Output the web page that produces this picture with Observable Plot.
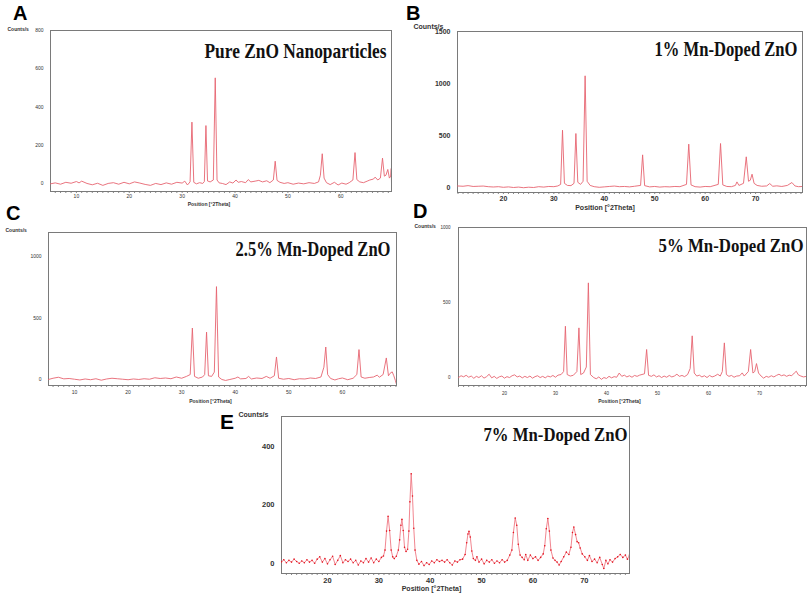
<!DOCTYPE html>
<html><head><meta charset="utf-8">
<script src="https://cdn.jsdelivr.net/npm/d3@7"></script>
<script src="https://cdn.jsdelivr.net/npm/@observablehq/plot@0.6"></script>
<style>
body{margin:0;background:#fff}
#wrap{position:relative;width:809px;height:596px;overflow:hidden;background:#fff}
.p{position:absolute}
.lab{position:absolute;font:bold 20px "Liberation Sans",Arial,sans-serif;line-height:1;color:#000}
</style>
</head><body><div id="wrap"></div>
<script>
// ---- data: [2theta, counts] ----
const aPattern = [[5.1,0],[6,5],[7,-2],[8,8],[9,3],[10,12],[10.5,5],[11,14],[12,2],[13,-5],[14,3],[15,-8],[16,2],[17,6],[18,-2],[19,8],[20,0],[21,10],[22,4],[23,-3],[24,-8],[25,2],[26,-4],[27,5],[28,-2],[29,8],[30,4],[30.5,14],[31,-6],[31.5,10],[31.85,322],[32.2,8],[32.7,0],[33.3,6],[33.9,2],[34.2,12],[34.5,304],[34.8,15],[35.3,10],[35.9,20],[36.26,553],[36.6,20],[37,5],[37.6,2],[38.3,-4],[39,10],[39.6,4],[40.2,20],[40.6,8],[41.2,12],[42,6],[42.5,22],[43,10],[43.8,14],[44.5,18],[45.2,10],[46,16],[46.6,6],[47.25,20],[47.6,118],[47.95,18],[48.5,8],[49.3,2],[50,6],[51,-2],[52,4],[53,0],[54,6],[55,2],[55.8,10],[56.15,45],[56.5,157],[56.85,30],[57.3,6],[58,-4],[58.8,8],[59.5,-6],[60.2,4],[61,-2],[61.6,6],[62.3,20],[62.7,163],[63.05,22],[63.6,10],[64.3,6],[65,14],[65.5,20],[66.2,25],[66.5,35],[67,20],[67.5,30],[67.9,134],[68.25,40],[68.55,45],[68.9,75],[69.2,30],[69.45,40],[69.55,80],[69.6,5]];
const bPattern = [[10.9,15],[12,12],[13,18],[14,10],[15,12],[16,14],[17,8],[18,5],[19,8],[20,2],[21,6],[22,0],[23,4],[24,-2],[25,3],[26,0],[27,8],[28,4],[29,10],[30,8],[30.8,15],[31.35,30],[31.72,551],[32.1,40],[32.7,20],[33.4,18],[34.0,40],[34.37,519],[34.75,50],[35.3,30],[35.8,60],[36.2,1074],[36.6,60],[37.2,20],[38,8],[39,2],[40,6],[41,10],[42,14],[43,8],[44,10],[45,6],[46,12],[47.2,20],[47.6,314],[48,18],[49,6],[50,10],[51,4],[52,8],[53,6],[54,10],[55,8],[56.3,30],[56.75,417],[57.2,25],[58,8],[59,4],[60,10],[61,8],[62.6,30],[63.05,423],[63.5,25],[64.3,10],[65.2,8],[66,20],[66.3,54],[66.7,20],[67.6,40],[68.15,295],[68.6,60],[68.95,70],[69.3,128],[69.7,40],[70.3,20],[71.2,12],[72.2,15],[72.8,38],[73.4,12],[74.2,16],[75.2,10],[76.3,20],[77.2,48],[77.8,15],[78.5,8],[79.3,10]];
const cPattern = [[5.15,0],[6,10],[7,18],[8,5],[9,8],[10,2],[11,-4],[12,4],[13,-2],[14,6],[15,-6],[16,4],[17,10],[18,6],[19,2],[20,-2],[21,4],[22,0],[23,6],[24,2],[25,14],[26,8],[27,12],[28,6],[29,20],[30,10],[30.9,25],[31.6,40],[32.0,418],[32.4,25],[33.1,10],[33.9,20],[34.3,40],[34.65,385],[35.0,30],[35.6,25],[36.1,60],[36.5,755],[36.9,20],[37.5,0],[38.2,-8],[39,0],[40,10],[40.5,20],[41,5],[42,8],[42.5,25],[43,4],[44,12],[45,8],[45.8,25],[46.5,10],[47.3,30],[47.7,183],[48.1,10],[49,2],[50,8],[51,-2],[52,6],[53,4],[54,12],[55,8],[56,20],[56.55,100],[56.9,264],[57.25,40],[57.8,8],[58.6,-4],[59.3,6],[60,12],[61,-2],[62,10],[62.7,40],[63.1,243],[63.5,20],[64.2,10],[65,16],[65.8,20],[66.5,35],[66.9,18],[67.6,40],[68.2,175],[68.6,30],[68.9,50],[69.3,62],[69.6,30],[69.9,-10],[70.1,-40]];
const dPattern = [[11,0],[11.5,12],[12,5],[12.5,15],[13,2],[13.5,10],[14,-5],[14.5,8],[15,0],[15.5,12],[16,-4],[16.5,6],[17,22],[17.5,-2],[18,8],[18.5,-6],[19,5],[19.5,10],[20,-4],[20.5,6],[21,0],[21.5,12],[22,18],[22.5,4],[23,10],[23.5,-2],[24,8],[24.5,0],[25,10],[25.5,-4],[26,6],[26.5,12],[27,0],[27.5,8],[28,-2],[28.5,10],[29,4],[29.5,14],[30,2],[30.5,16],[31.1,20],[31.6,40],[31.95,342],[32.3,20],[32.9,10],[33.5,15],[34.2,40],[34.6,331],[34.95,20],[35.5,30],[36.05,70],[36.45,631],[36.85,20],[37.5,0],[38,-8],[38.5,4],[39,-12],[39.5,0],[40,-6],[40.5,8],[41,-2],[41.5,6],[42,2],[42.5,30],[43,8],[43.5,16],[44,4],[44.5,12],[45,2],[45.5,14],[46,8],[46.5,16],[47.45,25],[47.87,187],[48.25,15],[48.8,8],[49.3,18],[49.8,4],[50.3,12],[50.8,0],[51.3,10],[51.8,2],[52.3,14],[52.8,4],[53.3,10],[53.8,22],[54.3,8],[54.8,14],[55.3,6],[55.9,20],[56.4,60],[56.8,278],[57.2,30],[57.7,10],[58.2,16],[58.7,4],[59.2,12],[59.7,0],[60.2,14],[60.7,4],[61.2,10],[61.8,22],[62.3,10],[62.7,40],[63.1,231],[63.5,20],[64,8],[64.5,14],[65,2],[65.5,10],[66.1,12],[66.6,31],[67,10],[67.8,40],[68.25,187],[68.7,30],[69.05,40],[69.4,93],[69.8,30],[70.3,10],[70.8,-4],[71.3,8],[71.8,2],[72.3,12],[72.8,4],[73.3,14],[73.8,22],[74.3,12],[74.8,18],[75.3,8],[75.8,16],[76.3,12],[76.8,30],[77.2,42],[77.6,18],[78.1,10],[78.6,4],[79.2,8]];
const ePattern = [[11.05,5],[11.5,12],[12,2],[12.5,10],[13,4],[13.5,14],[14,6],[14.5,0],[15,8],[15.5,2],[16,12],[16.5,4],[17,10],[17.5,0],[18,14],[18.5,22],[19,4],[19.5,16],[20,-2],[20.5,12],[21,24],[21.5,-4],[22,10],[22.5,26],[23,2],[23.5,12],[24,6],[24.5,14],[25,2],[25.5,10],[26,-6],[26.5,8],[27,2],[27.5,16],[28,4],[28.5,18],[29,2],[29.5,14],[30,6],[30.5,20],[30.9,25],[31.2,45],[31.5,110],[31.8,161],[32.1,112],[32.4,45],[32.7,22],[33,16],[33.4,24],[33.8,45],[34.05,80],[34.3,130],[34.5,150],[34.75,112],[35.0,55],[35.3,40],[35.6,48],[35.85,110],[36.05,210],[36.3,306],[36.55,230],[36.8,120],[37.05,45],[37.4,10],[37.8,-3],[38.3,6],[38.8,-8],[39.3,2],[39.8,-4],[40.3,8],[40.8,2],[41.3,12],[41.8,6],[42.3,10],[42.8,4],[43.3,12],[43.8,2],[44.3,-6],[44.8,8],[45.3,4],[45.8,12],[46.3,14],[46.8,30],[47.1,70],[47.35,100],[47.55,109],[47.8,90],[48.1,42],[48.4,16],[48.8,10],[49.1,22],[49.5,4],[50,14],[50.5,-2],[51,10],[51.5,4],[52,12],[52.5,0],[53,8],[53.5,2],[54,12],[54.5,4],[55,10],[55.5,28],[55.9,45],[56.2,105],[56.55,155],[56.85,130],[57.15,65],[57.5,28],[57.9,20],[58.3,12],[58.6,30],[59,10],[59.5,28],[60,16],[60.5,22],[61,10],[61.5,20],[62,32],[62.3,60],[62.6,118],[62.9,153],[63.2,110],[63.5,45],[63.9,18],[64.3,10],[64.7,4],[65.1,-6],[65.5,6],[66,22],[66.5,38],[67,30],[67.4,55],[67.7,105],[67.96,124],[68.3,98],[68.6,74],[68.9,70],[69.2,52],[69.6,32],[70.1,22],[70.6,10],[71,26],[71.5,6],[72,14],[72.5,2],[73,20],[73.5,-4],[73.8,-18],[74.2,10],[74.6,-2],[75,12],[75.5,4],[76,16],[76.5,22],[77,30],[77.5,20],[78,28],[78.4,14],[78.8,28]];

// ---- tick labels ----
const aXTicks = [10,20,30,40,50,60];
const cXTicks = [10,20,30,40,50,60];
const bdeXTicks = [20,30,40,50,60,70];
const aYTicks = [0,200,400,600,800];
const bYTicks = [0,500,1000,1500];
const cdYTicks = [0,500,1000];
const eYTicks = [0,200,400];

// ---- texts ----
const panelLetters = ["A","B","C","D","E"];
const titles = ["Pure ZnO Nanoparticles","1% Mn-Doped ZnO","2.5% Mn-Doped ZnO","5% Mn-Doped ZnO","7% Mn-Doped ZnO"];
const xLabel = "Position [°2Theta]";
const yLabel = "Counts/s";

const wrap = document.getElementById("wrap");
const fmt = d3.format("d");

function panel(c){
  const data = c.pattern.map(([t, n]) => ({t, n}));
  const minor = d3.range(Math.ceil(c.xd[0]), Math.floor(c.xd[1]) + 1);
  const marks = [
    Plot.axisX(minor, {tickSize: 2, tickFormat: () => "", label: null, stroke: "#888"}),
    Plot.axisX(c.xTicks, {tickSize: 0, tickPadding: c.xPad, tickFormat: fmt, label: null}),
    Plot.axisY(c.yTicks, {tickSize: 0, tickPadding: c.yPad, tickFormat: fmt, label: null}),
    Plot.frame({stroke: "#7a7a7a", strokeWidth: 1}),
    Plot.lineY(data, {x: "t", y: "n", stroke: c.color, strokeWidth: c.sw, clip: true}),
  ];
  if (c.dots) marks.push(Plot.dot(data, {x: "t", y: "n", r: 0.8, fill: c.dotColor, stroke: null, clip: true}));
  marks.push(
    Plot.text([c.title], {text: d => d, frameAnchor: "top-right", textAnchor: "end", dx: c.tdx, dy: c.tdy,
      fontSize: c.tfs, fontWeight: "bold", fontFamily: "Liberation Serif, Times New Roman, serif", fill: "#111"}),
    Plot.text([xLabel], {text: d => d, frameAnchor: "bottom", dx: c.ldx, dy: c.ldy,
      fontSize: c.lfs, fontWeight: "bold", fill: "#333"}),
    Plot.text([yLabel], {text: d => d, frameAnchor: "top-left", textAnchor: "start", dx: c.cdx, dy: c.cdy,
      fontSize: c.lfs, fontWeight: "bold", fill: "#333"})
  );
  const svg = Plot.plot({
    width: c.w, height: c.h,
    marginTop: c.mt, marginRight: c.mr, marginBottom: c.mb, marginLeft: c.ml,
    x: {domain: c.xd}, y: {domain: c.yd},
    style: {fontFamily: "Liberation Sans, Arial, sans-serif", fontSize: c.fs + "px", fontWeight: c.fw, color: "#333", background: "transparent", overflow: "visible"},
    marks
  });
  d3.select(svg).selectAll("text").filter(function(){ return this.textContent === c.title; })
    .attr("textLength", c.tw).attr("lengthAdjust", "spacingAndGlyphs");
  svg.classList.add("p");
  svg.style.left = c.left + "px";
  svg.style.top = c.top + "px";
  wrap.appendChild(svg);
}

const lineRed = "#e66470";

panel({pattern: aPattern, left: 0, top: 0, w: 400, h: 215, ml: 50, mr: 9, mt: 30, mb: 24,
  xd: [5.1, 69.6], yd: [-40, 800], xTicks: aXTicks, yTicks: aYTicks, xPad: 3, yPad: 7,
  fs: 5, fw: "normal", lfs: 5, color: lineRed, sw: 0.9,
  title: titles[0], tdx: -5, tdy: 12.6, tfs: 21, tw: 182,
  ldx: -12, ldy: 14, cdx: -43, cdy: -3});
panel({pattern: bPattern, left: 400, top: 0, w: 409, h: 215, ml: 57, mr: 7, mt: 31, mb: 23,
  xd: [10.9, 79.3], yd: [-48, 1500], xTicks: bdeXTicks, yTicks: bYTicks, xPad: 4, yPad: 7,
  fs: 7, fw: "bold", lfs: 7, color: lineRed, sw: 0.9,
  title: titles[1], tdx: -5, tdy: 10.6, tfs: 20, tw: 143,
  ldx: -25, ldy: 17, cdx: -44, cdy: -7});
panel({pattern: cPattern, left: 0, top: 215, w: 400, h: 195, ml: 48, mr: 4, mt: 17, mb: 25,
  xd: [5.15, 70.1], yd: [-49, 1195], xTicks: cXTicks, yTicks: cdYTicks, xPad: 5, yPad: 7,
  fs: 5, fw: "normal", lfs: 5, color: lineRed, sw: 0.9,
  title: titles[2], tdx: -6, tdy: 9.6, tfs: 20, tw: 155,
  ldx: -12, ldy: 17, cdx: -43, cdy: -4});
panel({pattern: dPattern, left: 400, top: 215, w: 409, h: 195, ml: 58, mr: 3, mt: 12, mb: 25,
  xd: [11, 79.2], yd: [-53, 1000], xTicks: bdeXTicks, yTicks: cdYTicks, xPad: 6, yPad: 8,
  fs: 4.5, fw: "normal", lfs: 5, color: lineRed, sw: 0.9,
  title: titles[3], tdx: -3, tdy: 10.6, tfs: 19, tw: 145,
  ldx: -13, ldy: 17, cdx: -44, cdy: -3});
panel({pattern: ePattern, left: 200, top: 405, w: 440, h: 191, ml: 81, mr: 11, mt: 11, mb: 23,
  xd: [11.05, 78.8], yd: [-35, 502], xTicks: bdeXTicks, yTicks: eYTicks, xPad: 4, yPad: 7,
  fs: 7.5, fw: "bold", lfs: 7, color: "#ef7883", dotColor: "#e3141f", sw: 0.9, dots: true,
  title: titles[4], tdx: -2, tdy: 10.6, tfs: 19, tw: 144,
  ldx: -24, ldy: 17.5, cdx: -43, cdy: -4});

// panel letters
const letterPos = [[13, 2.5], [406, 2.5], [6, 202.5], [413, 200.5], [220, 411]];
panelLetters.forEach((L, i) => {
  const d = document.createElement("div");
  d.className = "lab";
  d.textContent = L;
  d.style.left = letterPos[i][0] + "px";
  d.style.top = letterPos[i][1] + "px";
  if (i === 4) d.style.fontSize = "21px";
  wrap.appendChild(d);
});
</script>
</body></html>
